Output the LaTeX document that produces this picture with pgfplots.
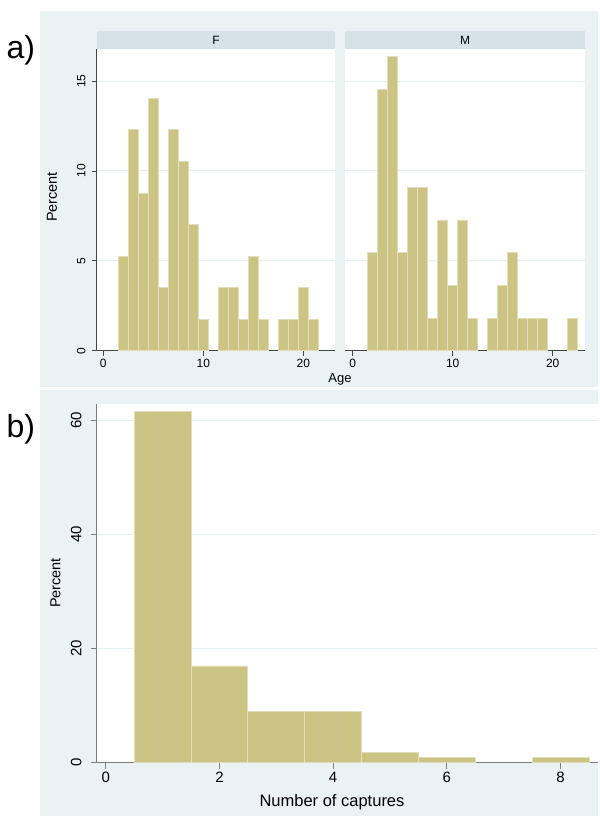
\documentclass[border=0pt]{standalone}
\usepackage{pgfplots}
\pgfplotsset{compat=1.18}
\usepackage{fontspec}
\setmainfont{Liberation Sans}
\definecolor{outerbg}{RGB}{234,242,243}
\definecolor{stripbg}{RGB}{214,226,232}
\definecolor{barfill}{RGB}{204,196,132}
\definecolor{baredge}{RGB}{226,222,184}
\definecolor{gridc}{RGB}{230,239,241}
\definecolor{axc}{RGB}{70,70,70}
\definecolor{axc2}{RGB}{125,125,125}

\pgfplotsset{
  histo/.style={
    scale only axis,
    axis background/.style={fill=white},
    tick align=outside,
    axis x line*=bottom,
    axis y line*=left,
    ymajorgrids,
    major grid style={gridc, line width=0.9pt},
    ymin=0,
    /pgf/number format/assume math mode=true,
    clip=false,
  },
  hbar/.style={ybar, bar width=1, bar shift=0pt, fill=barfill, draw=baredge, line width=0.8pt},
}

\pgfplotstableread{
x y
2 5.263
3 12.281
4 8.772
5 14.035
6 3.509
7 12.281
8 10.526
9 7.018
10 1.754
12 3.509
13 3.509
14 1.754
15 5.263
16 1.754
18 1.754
19 1.754
20 3.509
21 1.754
}\femdata

\pgfplotstableread{
x y
2 5.455
3 14.545
4 16.364
5 5.455
6 9.091
7 9.091
8 1.818
9 7.273
10 3.636
11 7.273
12 1.818
14 1.818
15 3.636
16 5.455
17 1.818
18 1.818
19 1.818
22 1.818
}\maldata

\pgfplotstableread{
x y
1 61.607
2 16.964
3 8.929
4 8.929
5 1.786
6 0.893
8 0.893
}\capdata

\begin{document}
\begin{tikzpicture}[x=1pt,y=1pt]
\useasboundingbox (0,0) rectangle (600,-820);
\fill[white] (0,0) rectangle (600,-820);
\fill[outerbg] (40,-11) rectangle (598,-387);
\fill[outerbg] (40,-390) rectangle (598,-816);
\fill[stripbg] (96.7,-31) rectangle (335,-49);
\fill[stripbg] (345,-31) rectangle (585,-49);

\node[anchor=base west, font=\fontsize{32}{32}\selectfont] at (3,-58) {a)};
\node[anchor=base west, font=\fontsize{32}{32}\selectfont] at (3,-437) {b)};
\node[font=\fontsize{12}{12}\selectfont] at (216,-40) {F};
\node[font=\fontsize{12}{12}\selectfont] at (465,-40) {M};
\node[rotate=90, font=\fontsize{14.5}{14.5}\selectfont] at (52,-197) {Percent};
\node[anchor=base, font=\fontsize{13}{13}\selectfont] at (340,-382) {Age};
\node[rotate=90, font=\fontsize{14.5}{14.5}\selectfont] at (55.5,-583) {Percent};
\node[anchor=base, font=\fontsize{16.5}{16.5}\selectfont] at (332,-806.5) {Number of captures};

% F panel
\begin{axis}[histo,
  at={(96.7pt,-350.7pt)}, anchor=south west,
  width=238.3pt, height=301.7pt,
  xmin=-0.66, xmax=23.17, ymax=16.78,
  xtick={0,10,20}, ytick={0,5,10,15},
  major tick length=5pt,
  axis line style={axc, line width=0.8pt},
  tick style={axc, line width=0.7pt},
  tick label style={font=\fontsize{12}{12}\selectfont},
  yticklabel style={rotate=90, anchor=south, inner xsep=2pt, inner ysep=6pt},
]
\addplot[hbar] table[x=x,y=y] {\femdata};
\end{axis}

% M panel
\begin{axis}[histo,
  at={(345pt,-350.7pt)}, anchor=south west,
  width=240pt, height=301.7pt,
  xmin=-0.77, xmax=23.23, ymax=16.78,
  xtick={0,10,20}, ytick={5,10,15},
  major tick length=5pt,
  axis line style={axc, line width=0.8pt},
  y axis line style={draw=none},
  tick style={axc, line width=0.7pt},
  ytick style={draw=none},
  yticklabels={},
  tick label style={font=\fontsize{12}{12}\selectfont},
]
\addplot[hbar] table[x=x,y=y] {\maldata};
\end{axis}

% bottom panel
\begin{axis}[histo,
  at={(96.7pt,-762.7pt)}, anchor=south west,
  width=501.3pt, height=358.7pt,
  xmin=-0.16, xmax=8.66, ymax=62.9,
  xtick={0,2,4,6,8}, ytick={0,20,40,60},
  major tick length=6pt,
  axis line style={axc2, line width=0.9pt},
  tick style={axc2, line width=0.7pt},
  tick label style={font=\fontsize{15}{15}\selectfont},
  yticklabel style={rotate=90, anchor=south, inner xsep=2pt, inner ysep=9pt},
]
\addplot[hbar] table[x=x,y=y] {\capdata};
\end{axis}
\end{tikzpicture}
\end{document}
